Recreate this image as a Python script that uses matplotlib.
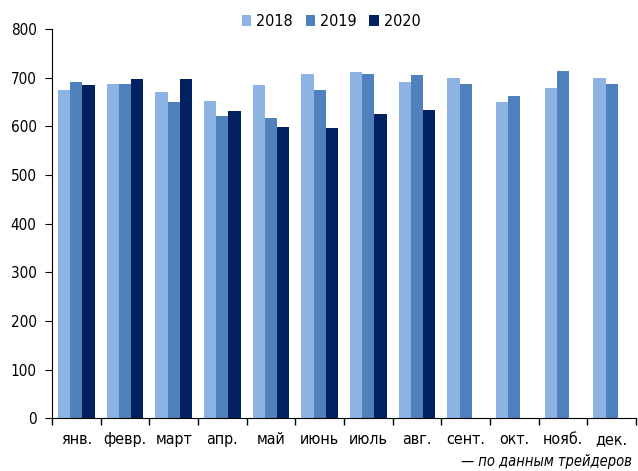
import numpy as np
import matplotlib
matplotlib.use("Agg")
import matplotlib.pyplot as plt

# monthly values
months = ["янв.", "февр.", "март", "апр.", "май", "июнь", "июль", "авг.",
          "сент.", "окт.", "нояб.", "дек."]
y2018 = [674, 687, 671, 653, 684, 707, 711, 691, 699, 649, 678, 700]
y2019 = [691, 686, 649, 621, 617, 674, 708, 706, 688, 662, 714, 687]
y2020 = [685, 698, 697, 632, 598, 596, 625, 633]

plt.rcParams['font.family'] = ['DejaVu Sans']
plt.rcParams['font.stretch'] = 'condensed'

fig = plt.figure(figsize=(6.38, 4.71), dpi=100)
ax = fig.add_axes([0.0815, 0.1119, 0.9155, 0.8265])

x = np.arange(len(months))
w = 0.25
ax.bar(x - w, y2018, w, color='#8DB3E2', label='2018')
ax.bar(x, y2019, w, color='#4F81BD', label='2019')
ax.bar(np.arange(len(y2020)) + w, y2020, w, color='#002060', label='2020')

ax.set_xlim(-0.5, len(months) - 0.5)
ax.set_ylim(0, 800)
ax.set_yticks(range(0, 801, 100))
ax.set_xticks(x)
ax.set_xticklabels(months, fontsize=11.5)
ax.set_xticks(np.arange(-0.5, len(months)), minor=True)
ax.tick_params(axis='x', which='major', length=0, pad=10)
ax.tick_params(axis='x', which='minor', length=5, direction='out', width=1)
ax.tick_params(axis='y', length=5, direction='out', labelsize=11, pad=6)

for s in ['top', 'right']:
    ax.spines[s].set_visible(False)

ax.legend(loc='upper center', bbox_to_anchor=(0.478, 1.075), ncol=3, frameon=False,
          fontsize=11.5, handlelength=0.6, handleheight=0.6, handletextpad=0.3,
          columnspacing=0.8)

fig.text(0.99, 0.005, '— по данным трейдеров', ha='right', va='bottom',
         fontsize=10.5, style='italic')

fig.savefig("out.png", dpi=100)
